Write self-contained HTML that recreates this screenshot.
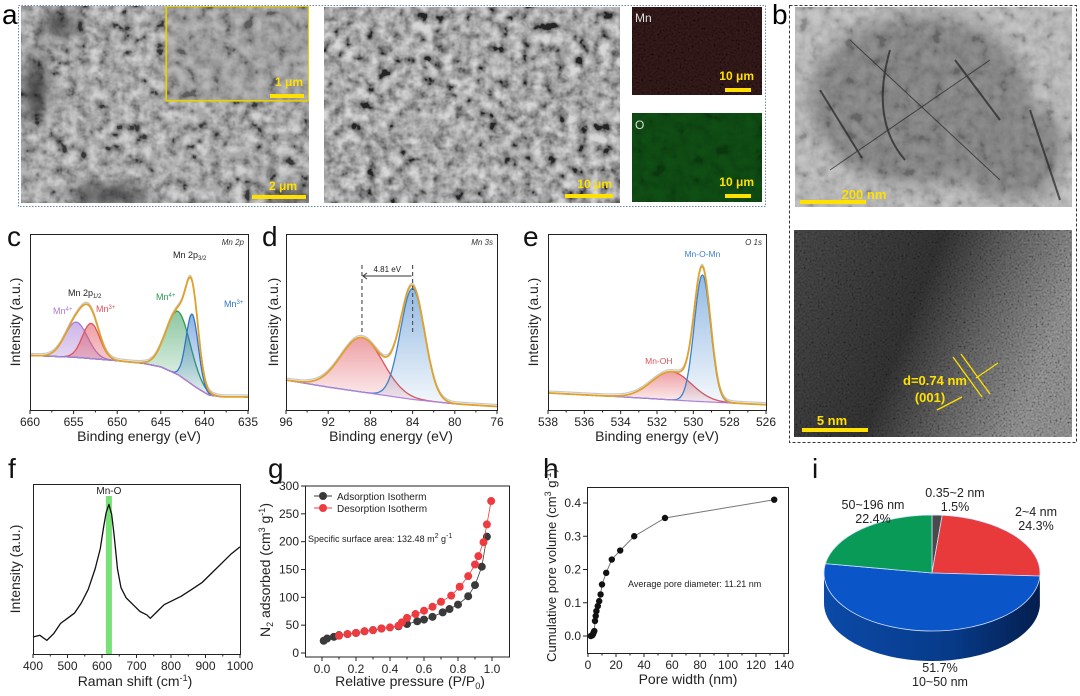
<!DOCTYPE html>
<html><head><meta charset="utf-8"><style>
html,body{margin:0;padding:0;background:#fff;}
svg{display:block;font-family:"Liberation Sans",Arial,sans-serif;}
</style></head><body>
<svg id="fig" width="1080" height="696" viewBox="0 0 1080 696" xmlns="http://www.w3.org/2000/svg">
<defs>
<filter id="noiseF" x="0" y="0" width="100%" height="100%"><feTurbulence type="fractalNoise" baseFrequency="0.09" numOctaves="3" seed="3"/><feColorMatrix type="matrix" values="0.33 0.33 0.33 0 0  0.33 0.33 0.33 0 0  0.33 0.33 0.33 0 0  0 0 0 0 1"/><feComponentTransfer><feFuncR type="linear" slope="3" intercept="-1"/><feFuncG type="linear" slope="3" intercept="-1"/><feFuncB type="linear" slope="3" intercept="-1"/></feComponentTransfer></filter>
<filter id="noiseFine" x="0" y="0" width="100%" height="100%"><feTurbulence type="fractalNoise" baseFrequency="0.5" numOctaves="2" seed="7"/><feColorMatrix type="matrix" values="0.33 0.33 0.33 0 0  0.33 0.33 0.33 0 0  0.33 0.33 0.33 0 0  0 0 0 0 1"/><feComponentTransfer><feFuncR type="linear" slope="3" intercept="-1"/><feFuncG type="linear" slope="3" intercept="-1"/><feFuncB type="linear" slope="3" intercept="-1"/></feComponentTransfer></filter>
<filter id="blur6" x="-50%" y="-50%" width="200%" height="200%"><feGaussianBlur stdDeviation="8"/></filter>
<clipPath id="cpSem1"><rect x="21" y="6" width="288" height="197"/></clipPath>
<clipPath id="cpTem"><rect x="795" y="7" width="277" height="200"/></clipPath>
<clipPath id="cpHr"><rect x="794" y="230" width="278" height="207"/></clipPath>
<linearGradient id="hrG" x1="0" x2="1" y1="0" y2="0.3"><stop offset="0" stop-color="#3c3c3c"/><stop offset="0.5" stop-color="#2a2a2a"/><stop offset="0.75" stop-color="#555"/><stop offset="1" stop-color="#7a7a7a"/></linearGradient>
<linearGradient id="sideG" x1="0" x2="1" y1="0" y2="0"><stop offset="0" stop-color="#0b4aa8"/><stop offset="0.6" stop-color="#073a88"/><stop offset="1" stop-color="#041e4d"/></linearGradient>
</defs>

<g>
<text x="2" y="24" font-size="28">a</text>
<rect x="18.5" y="5.5" width="747" height="201" fill="none" stroke="#6f86b5" stroke-dasharray="1.5,1.5"/>
<g clip-path="url(#cpSem1)">
<rect x="21" y="6" width="288" height="197" fill="#8a8a8a"/>
<rect x="21" y="6" width="288" height="197" filter="url(#noiseF)" opacity="0.6"/>
<g filter="url(#blur6)" fill="#222" opacity="0.7">
<ellipse cx="35" cy="90" rx="12" ry="35"/><ellipse cx="60" cy="25" rx="20" ry="12"/><ellipse cx="110" cy="195" rx="40" ry="10"/><ellipse cx="290" cy="195" rx="25" ry="8"/>
</g>
<rect x="166" y="6" width="143" height="95" fill="#8f8f8f" stroke="#e8d000" stroke-width="1.2"/>
<rect x="166" y="6" width="143" height="95" filter="url(#noiseF)" opacity="0.35"/>
<rect x="166.5" y="6.5" width="142" height="94" fill="none" stroke="#e8d000" stroke-width="1.2"/>
<text x="303" y="86" font-size="12" font-weight="bold" fill="#ffe000" text-anchor="end">1 μm</text>
<rect x="270" y="94" width="34" height="4" fill="#ffe000"/>
<text x="297" y="190" font-size="12" font-weight="bold" fill="#ffe000" text-anchor="end">2 μm</text>
<rect x="252" y="195" width="54" height="4" fill="#ffe000"/>
</g>
<g>
<rect x="324" y="7" width="296" height="196" fill="#7a7a7a"/>
<rect x="324" y="7" width="296" height="196" filter="url(#noiseF)" opacity="0.7"/>
<text x="612" y="188" font-size="12" font-weight="bold" fill="#ffe000" text-anchor="end">10 μm</text>
<rect x="565" y="194" width="48" height="4" fill="#ffe000"/>
</g>
<g>
<rect x="632" y="7" width="130" height="88" fill="#1e0404"/>
<rect x="632" y="7" width="130" height="88" filter="url(#noiseFine)" opacity="0.1" style="mix-blend-mode:screen"/>
<text x="635" y="22" font-size="12" fill="#ddd">Mn</text>
<text x="754" y="80" font-size="12" font-weight="bold" fill="#ffe000" text-anchor="end">10 μm</text>
<rect x="725" y="88" width="26" height="4" fill="#ffe000"/>
</g>
<g>
<rect x="632" y="113" width="130" height="89" fill="#0f4f14"/>
<rect x="632" y="113" width="130" height="89" filter="url(#noiseF)" opacity="0.3" style="mix-blend-mode:multiply"/>
<text x="635" y="129" font-size="12" fill="#ddd">O</text>
<text x="754" y="186" font-size="12" font-weight="bold" fill="#ffe000" text-anchor="end">10 μm</text>
<rect x="725" y="194" width="26" height="4" fill="#ffe000"/>
</g>
</g>

<g>
<text x="772" y="24" font-size="28">b</text>
<rect x="789.5" y="5.5" width="287" height="437" fill="none" stroke="#333" stroke-dasharray="3,2"/>
<g clip-path="url(#cpTem)">
<rect x="795" y="7" width="277" height="200" fill="#c6c6c6"/>
<g filter="url(#blur6)" fill="#7a7a7a" opacity="0.7"><ellipse cx="920" cy="100" rx="110" ry="85"/><ellipse cx="1010" cy="150" rx="55" ry="50"/></g>
<rect x="795" y="7" width="277" height="200" filter="url(#noiseF)" opacity="0.3" style="mix-blend-mode:multiply"/>
<g stroke="#222" stroke-width="2" fill="none" opacity="0.7"><path d="M820 90 L862 158"/><path d="M890 50 Q870 120 905 160"/><path d="M955 60 L1000 120"/><path d="M1030 110 L1060 200"/><path d="M850 40 L1000 180" stroke-width="1"/><path d="M830 170 L990 60" stroke-width="1"/></g>
<text x="864" y="199" font-size="13" font-weight="bold" fill="#ffe000" text-anchor="middle">200 nm</text>
<rect x="800" y="200" width="66" height="4" fill="#ffe000"/>
</g>
<g clip-path="url(#cpHr)">
<rect x="794" y="230" width="278" height="207" fill="url(#hrG)"/>
<rect x="794" y="230" width="278" height="207" filter="url(#noiseFine)" opacity="0.3" style="mix-blend-mode:overlay"/>
<text x="935" y="385" font-size="13" font-weight="bold" fill="#ffe000" text-anchor="middle">d=0.74 nm</text>
<text x="930" y="402" font-size="13" font-weight="bold" fill="#ffe000" text-anchor="middle">(001)</text>
<g stroke="#ffe000" stroke-width="1.3"><path d="M953 357 L982 397"/><path d="M961 354 L990 394"/><path d="M937 410 L962 397"/><path d="M998 363 L976 378"/></g>
<text x="832" y="425" font-size="13" font-weight="bold" fill="#ffe000" text-anchor="middle">5 nm</text>
<rect x="802" y="428" width="66" height="4" fill="#ffe000"/>
</g>
</g>

<g id="charts"></g>
</svg>
<script>
const cTicks=[660,655,650,645,640,635];
const cBaseX=[660,655,650,647,645,643,641,639.5,638,635];
const cBaseY=[0.31,0.30,0.28,0.265,0.245,0.20,0.13,0.085,0.075,0.074];
const cCenters=[654.7,653.0,643.0,641.4];
const cHeights=[0.20,0.20,0.36,0.40];
const cWidths=[1.3,1.0,1.4,0.7];
const cColors=['#a77bd6','#e0525a','#2f9a55','#2f74c8'];

const dTicks=[96,92,88,84,80,76];
const dBaseX=[96,92,88,84,80,76];
const dBaseY=[0.17,0.13,0.095,0.06,0.035,0.02];
const dCenters=[88.8,84.0];
const dHeights=[0.31,0.63];
const dWidths=[2.0,1.15];
const dColors=['#e0525a','#3b82cc'];

const eTicks=[538,536,534,532,530,528,526];
const eBaseX=[538,534,530,526];
const eBaseY=[0.097,0.075,0.05,0.03];
const eCenters=[531.2,529.5];
const eHeights=[0.16,0.72];
const eWidths=[1.1,0.45];
const eColors=['#e0525a','#3b82cc'];

const fTicks=[400,500,600,700,800,900,1000];
const ramanX=[400,420,440,460,480,500,520,540,560,580,595,605,612,620,628,635,645,655,670,690,710,730,740,760,780,800,830,860,890,920,950,975,1000];
const ramanY=[0.10,0.11,0.08,0.12,0.18,0.21,0.24,0.30,0.38,0.50,0.62,0.75,0.83,0.88,0.82,0.70,0.50,0.39,0.33,0.29,0.25,0.23,0.21,0.25,0.29,0.31,0.34,0.38,0.42,0.48,0.54,0.59,0.63];

const gTicksX=[0,0.2,0.4,0.6,0.8,1.0];
const gTicksY=[0,50,100,150,200,250,300];
const adsX=[0.01,0.03,0.07,0.1,0.15,0.2,0.25,0.3,0.35,0.45,0.5,0.56,0.6,0.65,0.71,0.75,0.8,0.86,0.9,0.94,0.97];
const adsY=[22,26,29,32,34,36,39,41,44,48,52,57,60,65,73,79,87,102,122,155,209];
const desX=[0.1,0.15,0.2,0.25,0.3,0.35,0.4,0.45,0.47,0.5,0.55,0.6,0.65,0.7,0.76,0.81,0.86,0.9,0.92,0.95,0.97,0.995];
const desY=[31,34,36,39,41,44,46,49,55,63,70,76,83,92,103,119,138,159,174,199,231,273];

const hTicksX=[0,20,40,60,80,100,120,140];
const hTicksY=[0,0.1,0.2,0.3,0.4];
const poreX=[2,3,3.5,4,4.5,5,5.5,6,7,8,9,10,13,17,23,33,55,133];
const poreY=[0,0.002,0.005,0.01,0.015,0.045,0.06,0.075,0.09,0.105,0.125,0.155,0.19,0.23,0.257,0.30,0.355,0.41];

const pieLabels=['0.35~2 nm','2~4 nm','10~50 nm','50~196 nm'];
const pieValues=[1.5,24.3,51.7,22.4];
const pieColors=['#4a4a4a','#e8393b','#0a55c8','#0a9a58'];

const NS='http://www.w3.org/2000/svg';
const root=document.getElementById('charts');
function el(tag,attrs,parent){const e=document.createElementNS(NS,tag);for(const k in attrs)e.setAttribute(k,attrs[k]);(parent||root).appendChild(e);return e;}
function lin(d0,d1,r0,r1){return v=>r0+(v-d0)/(d1-d0)*(r1-r0);}
function interp(xs,ys,x){
  const asc=xs[xs.length-1]>xs[0];
  for(let i=0;i<xs.length-1;i++){const a=xs[i],b=xs[i+1];
    if((asc&&x>=a&&x<=b)||(!asc&&x<=a&&x>=b)){return ys[i]+(x-a)/(b-a)*(ys[i+1]-ys[i]);}}
  return (asc?(x<xs[0]):(x>xs[0]))?ys[0]:ys[ys.length-1];
}
function frame(g,x0,y0,x1,y1){const r=el('rect',{x:x0+0.5,y:y0+0.5,width:x1-x0,height:y1-y0,fill:'none',stroke:'#222','stroke-width':1},g);

}
function xAxis(g,sx,ticks,y1,fmt,minor){
  ticks.forEach(t=>{const x=sx(t);
    const tk=el('line',{x1:x,x2:x,y1:y1,y2:y1+4,stroke:'#222'},g);
    
    
    const lb=el('text',{x:x,y:y1+16,'font-size':12,'text-anchor':'middle',fill:'#222'},g);
    
    
    lb.textContent=fmt?fmt(t):t;});
  if(minor){for(let i=0;i<ticks.length-1;i++){const x=sx((ticks[i]+ticks[i+1])/2);
    const m=el('line',{x1:x,x2:x,y1:y1,y2:y1+2.5,stroke:'#222'},g);
    
    }}
}
function yAxis(g,sy,ticks,x0,fmt){
  ticks.forEach(t=>{const y=sy(t);
    const tk=el('line',{x1:x0-4,x2:x0,y1:y,y2:y,stroke:'#222'},g);
    
    
    const lb=el('text',{x:x0-6,y:y+4,'font-size':12,'text-anchor':'end',fill:'#222'},g);
    
    
    lb.textContent=fmt?fmt(t):t;});
}
function title(g,txt,x,y,rot,name,size){
  const t=el('text',{x:x,y:y,'font-size':size||14,'text-anchor':'middle',fill:'#222',transform:rot?`rotate(-90 ${x} ${y})`:''},g);
  
  
  t.innerHTML=txt;return t;
}
function letter(g,ch,x,y){const t=el('text',{x:x,y:y,'font-size':28,fill:'#111'},g);


t.textContent=ch;}
function label(g,txt,x,y,color,size,name,anchor,extra){
  const t=el('text',Object.assign({x:x,y:y,'font-size':size,fill:color,'text-anchor':anchor||'start'},extra||{}),g);
  
  
  t.innerHTML=txt;return t;
}
let gradId=0;
function xps(g,box,xmin,xmax,ticks,baseX,baseY,centers,heights,widths,colors,name){
  const sx=lin(xmin,xmax,box[0],box[2]), sy=lin(0,1,box[3],box[1]);
  const N=260, xs=[];for(let i=0;i<=N;i++)xs.push(xmin+(xmax-xmin)*i/N);
  const base=xs.map(x=>interp(baseX,baseY,x));
  const comps=centers.map((c,k)=>xs.map(x=>heights[k]*Math.exp(-0.5*((x-c)/widths[k])**2)));
  comps.forEach((cp,k)=>{
    const id='gr'+(gradId++);
    const lg=el('linearGradient',{id:id,x1:0,x2:0,y1:0,y2:1},document.querySelector('defs'));
    el('stop',{offset:0,'stop-color':colors[k],'stop-opacity':0.55},lg);
    el('stop',{offset:1,'stop-color':colors[k],'stop-opacity':0.05},lg);
    let top=xs.map((x,i)=>`${sx(x).toFixed(1)},${sy(base[i]+cp[i]).toFixed(1)}`);
    let bot=xs.map((x,i)=>`${sx(x).toFixed(1)},${sy(base[i]).toFixed(1)}`).reverse();
    const a=el('polygon',{points:top.concat(bot).join(' '),fill:`url(#${id})`},g);
    
    
    const l=el('polyline',{points:top.join(' '),fill:'none',stroke:colors[k],'stroke-width':1.3},g);
    
    
  });
  const bl=el('polyline',{points:xs.map((x,i)=>`${sx(x).toFixed(1)},${sy(base[i]).toFixed(1)}`).join(' '),fill:'none',stroke:'#b07fd8','stroke-width':1.2},g);
  
  
  const env=xs.map((x,i)=>base[i]+comps.reduce((s,cp)=>s+cp[i],0));
  const raw=el('polyline',{points:xs.map((x,i)=>`${sx(x).toFixed(1)},${(sy(env[i])-2).toFixed(1)}`).join(' '),fill:'none',stroke:'#c8c8c8','stroke-width':1.2},g);
  
  
  const ev=el('polyline',{points:xs.map((x,i)=>`${sx(x).toFixed(1)},${sy(env[i]).toFixed(1)}`).join(' '),fill:'none',stroke:'#e0a22a','stroke-width':1.8},g);
  
  
  frame(g,box[0],box[1],box[2],box[3]);
  xAxis(g,sx,ticks,box[3],null,true);
  return {sx,sy};
}

const gc=el('g',{});


letter(gc,'c',7,246);
const C=xps(gc,[30,234,248,410],660,635,cTicks,cBaseX,cBaseY,cCenters,cHeights,cWidths,cColors,'mn2p');
title(gc,'Intensity (a.u.)',20,322,true,'y-axis-title-c');
title(gc,'Binding energy (eV)',139,441,false,'x-axis-title-c');
label(gc,'Mn 2p',244,245,'#333',8,'spectrum-label-c','end',{'font-style':'italic'});
label(gc,'Mn 2p<tspan font-size="6" dy="2">1/2</tspan>',68,296,'#222',9,'peak-label-2p12');
label(gc,'Mn 2p<tspan font-size="6" dy="2">3/2</tspan>',173,258,'#222',9,'peak-label-2p32');
label(gc,'Mn<tspan font-size="6" dy="-3">4+</tspan>',53,314,'#a77bd6',9,'label-mn4-purple');
label(gc,'Mn<tspan font-size="6" dy="-3">3+</tspan>',96,312,'#e0525a',9,'label-mn3-red');
label(gc,'Mn<tspan font-size="6" dy="-3">4+</tspan>',156,300,'#2f9a55',9,'label-mn4-green');
label(gc,'Mn<tspan font-size="6" dy="-3">3+</tspan>',224,307,'#2f74c8',9,'label-mn3-blue');

const gd=el('g',{});


letter(gd,'d',262,246);
const D=xps(gd,[286,234,497,410],96,76,dTicks,dBaseX,dBaseY,dCenters,dHeights,dWidths,dColors,'mn3s');
title(gd,'Intensity (a.u.)',278,322,true,'y-axis-title-d');
title(gd,'Binding energy (eV)',391,441,false,'x-axis-title-d');
label(gd,'Mn 3s',493,245,'#333',8,'spectrum-label-d','end',{'font-style':'italic'});
[dCenters[0],dCenters[1]].forEach(c=>{const l=el('line',{x1:D.sx(c),x2:D.sx(c),y1:265,y2:D.sy(0.44),stroke:'#555','stroke-dasharray':'4,3','stroke-width':1.2},gd);

});
const arr=el('path',{d:`M${D.sx(dCenters[0])+1} 276 L${D.sx(dCenters[1])-1} 276 M${D.sx(dCenters[0])+5} 273 L${D.sx(dCenters[0])+1} 276 L${D.sx(dCenters[0])+5} 279`,stroke:'#333',fill:'none'},gd);


label(gd,'4.81 eV',(D.sx(dCenters[0])+D.sx(dCenters[1]))/2,272,'#222',8,'splitting-label','middle');

const ge=el('g',{});


letter(ge,'e',523,246);
const E=xps(ge,[548,234,766,410],538,526,eTicks,eBaseX,eBaseY,eCenters,eHeights,eWidths,eColors,'o1s');
title(ge,'Intensity (a.u.)',538,322,true,'y-axis-title-e');
title(ge,'Binding energy (eV)',657,441,false,'x-axis-title-e');
label(ge,'O 1s',762,245,'#333',8,'spectrum-label-e','end',{'font-style':'italic'});
label(ge,'Mn-O-Mn',E.sx(529.5),257,'#3b82cc',8.5,'label-mn-o-mn','middle');
label(ge,'Mn-OH',E.sx(531.9),364,'#e0525a',8.5,'label-mn-oh','middle');

const gf=el('g',{});


letter(gf,'f',8,478);
{const box=[33,484,240,654];
const sx=lin(400,1000,box[0],box[2]), sy=lin(0,1,box[3],box[1]);
const band=el('rect',{x:sx(620)-3,y:box[1]+12,width:6,height:box[3]-box[1]-12,fill:'#5fdc5f',opacity:0.85},gf);


const pts=[];for(let i=0;i<ramanX.length;i++)pts.push(`${sx(ramanX[i]).toFixed(1)},${sy(ramanY[i]).toFixed(1)}`);
const ln=el('polyline',{points:pts.join(' '),fill:'none',stroke:'#111','stroke-width':1.3,'stroke-linejoin':'round'},gf);


frame(gf,box[0],box[1],box[2],box[3]);
xAxis(gf,sx,fTicks,box[3],null,true);
label(gf,'Mn-O',sx(620),494,'#222',10,'raman-peak-label','middle');
title(gf,'Intensity (a.u.)',20,569,true,'y-axis-title-f');
title(gf,'Raman shift (cm<tspan font-size="9" dy="-5">-1</tspan><tspan dy="5">)</tspan>',135,686,false,'x-axis-title-f');}

const gg=el('g',{});


letter(gg,'g',268,478);
{const box=[305,486,509,657];
const sx=lin(-0.1,1.1,box[0],box[2]), sy=lin(0,300,653,486);
const mkSeries=(X,Y,col,name)=>{
  const pl=el('polyline',{points:X.map((x,i)=>`${sx(x).toFixed(1)},${sy(Y[i]).toFixed(1)}`).join(' '),fill:'none',stroke:col,'stroke-width':0.8},gg);
  
  
  X.forEach((x,i)=>{const c=el('circle',{cx:sx(x),cy:sy(Y[i]),r:4,fill:col},gg);
    
    });
};
mkSeries(adsX,adsY,'#3a3a3a','adsorption');
mkSeries(desX,desY,'#ee3b3f','desorption');
el('rect',{x:box[0]+0.5,y:box[1],width:box[2]-box[0],height:box[3]-box[1],fill:'none',stroke:'#222'},gg);
xAxis(gg,sx,gTicksX,box[3],t=>t.toFixed(1),true);
yAxis(gg,sy,gTicksY,box[0]);
const lg=el('g',{},gg);


el('line',{x1:314,x2:332,y1:496,y2:496,stroke:'#3a3a3a'},lg);
el('circle',{cx:323,cy:496,r:4,fill:'#3a3a3a'},lg);
label(lg,'Adsorption Isotherm',337,500,'#222',10,'legend-entry-adsorption');
el('line',{x1:314,x2:332,y1:508,y2:508,stroke:'#ee3b3f'},lg);
el('circle',{cx:323,cy:508,r:4,fill:'#ee3b3f'},lg);
label(lg,'Desorption Isotherm',337,512,'#222',10,'legend-entry-desorption');
label(gg,'Specific surface area: 132.48 m<tspan font-size="7" dy="-4">2</tspan><tspan dy="4"> g</tspan><tspan font-size="7" dy="-4">-1</tspan>',308,542,'#222',9,'surface-area-annotation');
title(gg,'N<tspan font-size="9" dy="3">2</tspan><tspan dy="-3"> adsorbed (cm</tspan><tspan font-size="9" dy="-5">3</tspan><tspan dy="5"> g</tspan><tspan font-size="9" dy="-5">-1</tspan><tspan dy="5">)</tspan>',270,570,true,'y-axis-title-g');
title(gg,'Relative pressure (P/P<tspan font-size="9" dy="3">0</tspan><tspan dy="-3">)</tspan>',410,686,false,'x-axis-title-g');}

const gh=el('g',{});


letter(gh,'h',543,478);
{const box=[587,487,788,653];
const sx=lin(0,140,588,784), sy=lin(0,0.4,636,503);
const pl=el('polyline',{points:poreX.map((x,i)=>`${sx(x).toFixed(1)},${sy(poreY[i]).toFixed(1)}`).join(' '),fill:'none',stroke:'#777','stroke-width':1},gh);


poreX.forEach((x,i)=>{const c=el('circle',{cx:sx(x),cy:sy(poreY[i]),r:3.2,fill:'#111'},gh);

});
frame(gh,box[0],box[1],box[2],box[3]);
xAxis(gh,sx,hTicksX,box[3],null,true);
yAxis(gh,sy,hTicksY,box[0],t=>t.toFixed(1));
label(gh,'Average pore diameter: 11.21 nm',628,587,'#222',9,'average-pore-annotation');
title(gh,'Cumulative pore volume (cm<tspan font-size="9" dy="-5">3</tspan><tspan dy="5"> g</tspan><tspan font-size="9" dy="-5">-1</tspan><tspan dy="5">)</tspan>',556,565,true,'y-axis-title-h',13);
title(gh,'Pore width (nm)',688,684,false,'x-axis-title-h');}

const gi=el('g',{});


letter(gi,'i',812,478);
{const cx=932, cy=573, rx=108, ry=58, depth=30;
const total=pieValues.reduce((a,b)=>a+b,0);
const P=(deg,dy)=>{const r=deg*Math.PI/180;return [cx+rx*Math.sin(r),cy-ry*Math.cos(r)+(dy||0)];};
let acc=0;const ranges=pieValues.map(v=>{const a=acc/total*360;acc+=v;return [a,acc/total*360];});
ranges.forEach((rg,k)=>{const a=Math.max(rg[0],90), b=Math.min(rg[1],270);
  if(b<=a)return;
  const p1=P(a),p2=P(b),p3=P(b,depth),p4=P(a,depth);
  const s=el('path',{d:`M${p1} A${rx},${ry} 0 0 1 ${p2} L${p3} A${rx},${ry} 0 0 0 ${p4} Z`,fill:k===2?'url(#sideG)':pieColors[k],opacity:k===2?1:0.75},gi);
  
  });
ranges.forEach((rg,k)=>{const p1=P(rg[0]),p2=P(rg[1]);const large=(rg[1]-rg[0])>180?1:0;
  const s=el('path',{d:`M${cx},${cy} L${p1} A${rx},${ry} 0 ${large} 1 ${p2} Z`,fill:pieColors[k],stroke:'#cfe0ff','stroke-width':0.8},gi);
  
  });
const pos=[[955,497,'middle'],[1036,516,'middle'],[940,672,'middle'],[873,509,'middle']];
pieValues.forEach((v,k)=>{const [x,y]=pos[k];
  const first=k===2?v.toFixed(1)+'%':pieLabels[k], second=k===2?pieLabels[k]:v.toFixed(1)+'%';
  label(gi,first,x,y,'#222',12.5,'pie-label-'+k,'middle');
  label(gi,second,x,y+14,'#222',12.5,'pie-value-'+k,'middle');});}
</script>
</body></html>
